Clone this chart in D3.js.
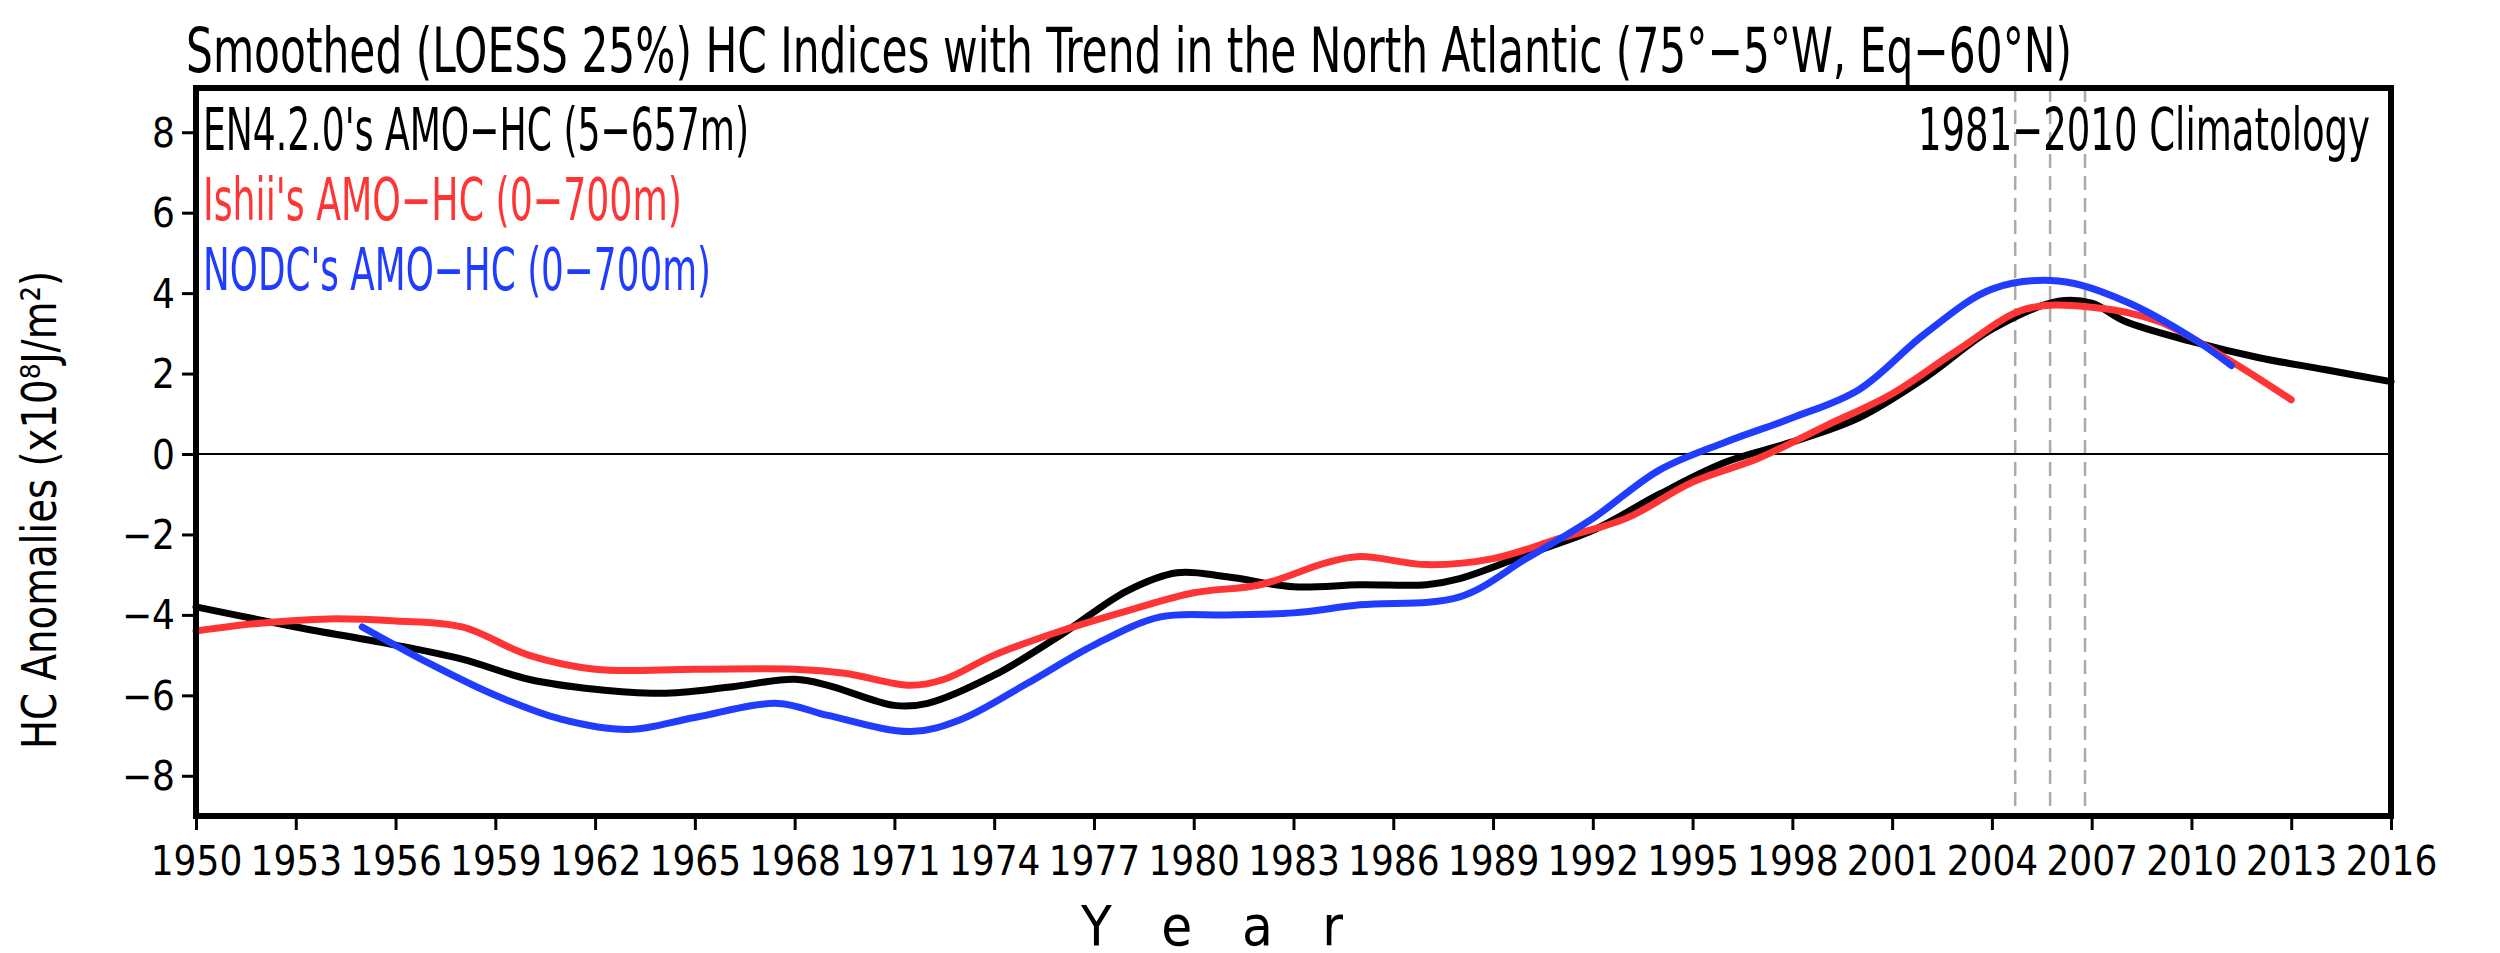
<!DOCTYPE html>
<html lang="en">
<head>
<meta charset="UTF-8">
<title>Smoothed HC Indices</title>
<script src="https://d3js.org/d3.v7.min.js"></script>
<style>
  body { margin: 0; background: #fff; }
  text { font-family: "Liberation Sans Narrow", "DejaVu Sans Condensed", "Liberation Sans", sans-serif; }
</style>
</head>
<body>
<div id="chart"></div>
<script>
// EN4.2.0 series
const en4Years = [1950,1953,1956,1958,1960,1962,1964,1966,1968,1969,1971,1972,1974,1976,1978,1979.5,1981,1983,1985,1987,1988,1990,1992,1994,1996,1998,2000,2002,2004,2006,2007,2008,2010,2012,2014,2016];
const en4Values = [-3.8,-4.3,-4.75,-5.1,-5.6,-5.85,-5.95,-5.8,-5.6,-5.75,-6.25,-6.2,-5.5,-4.5,-3.4,-2.95,-3.05,-3.3,-3.25,-3.25,-3.1,-2.5,-1.9,-1.0,-0.2,0.3,0.9,1.9,3.1,3.8,3.75,3.3,2.8,2.4,2.1,1.8];
// Ishii series
const ishiiYears = [1950,1952,1954,1956,1958,1960,1962,1965,1968,1969.5,1971.5,1972.5,1974,1976,1978,1980,1982,1984,1985,1987,1989,1991,1993,1995,1997,1999,2001,2003,2005,2007,2009,2011,2013];
const ishiiValues = [-4.4,-4.2,-4.1,-4.15,-4.3,-5.0,-5.35,-5.35,-5.35,-5.45,-5.75,-5.6,-5.0,-4.4,-3.9,-3.45,-3.25,-2.7,-2.55,-2.75,-2.6,-2.1,-1.6,-0.7,-0.1,0.7,1.5,2.6,3.6,3.65,3.3,2.4,1.35];
// NODC series
const nodcYears = [1955,1957,1959,1961,1963,1965,1967.5,1969,1971.5,1973,1975,1977,1979,1981,1983,1985,1988,1990,1992,1994,1996,1998,2000,2002,2004,2006,2008,2010,2011.2];
const nodcValues = [-4.3,-5.2,-6.0,-6.6,-6.85,-6.55,-6.2,-6.5,-6.9,-6.6,-5.7,-4.75,-4.05,-4.0,-3.95,-3.75,-3.55,-2.6,-1.6,-0.4,0.3,0.9,1.6,3.0,4.1,4.3,3.8,2.9,2.2];

const xTicks = d3.range(1950, 2017, 3);
const yTicks = [-8,-6,-4,-2,0,2,4,6,8];
const climLines = [2004.7, 2005.75, 2006.8];

const W = 2500, H = 953;
const pLeft = 196, pRight = 2391, pTop = 88, pBottom = 816;

const svg = d3.select("#chart").append("svg").attr("width", W).attr("height", H);

const x = d3.scaleLinear().domain([1950, 2016]).range([pLeft, pRight]);
const y = d3.scaleLinear().domain([-9, 9.1]).range([pBottom, pTop]);

// dashed climatology lines
svg.selectAll(".clim").data(climLines).join("line")
  .attr("x1", d => x(d)).attr("x2", d => x(d))
  .attr("y1", pTop).attr("y2", pBottom)
  .attr("stroke", "#aaa").attr("stroke-width", 2.5).attr("stroke-dasharray", "14,8");

// zero line
svg.append("line").attr("x1", pLeft).attr("x2", pRight)
  .attr("y1", y(0)).attr("y2", y(0)).attr("stroke", "#000").attr("stroke-width", 2);

const line = d3.line().x(d => x(d[0])).y(d => y(d[1])).curve(d3.curveCatmullRom);
const series = [
  { yrs: en4Years, vals: en4Values, color: "#000" },
  { yrs: ishiiYears, vals: ishiiValues, color: "#ff3535" },
  { yrs: nodcYears, vals: nodcValues, color: "#1f3cff" }
];
svg.selectAll(".series").data(series).join("path")
  .attr("fill", "none").attr("stroke", d => d.color).attr("stroke-width", 7)
  .attr("stroke-linecap", "round")
  .attr("d", d => line(d.yrs.map((v, i) => [v, d.vals[i]])));

// axes
const xAxis = svg.append("g").attr("transform", `translate(0,${pBottom})`)
  .call(d3.axisBottom(x).tickValues(xTicks).tickFormat(d3.format("d")).tickSize(14).tickSizeOuter(0));
const yAxis = svg.append("g").attr("transform", `translate(${pLeft},0)`)
  .call(d3.axisLeft(y).tickValues(yTicks).tickFormat(d => d < 0 ? "\u2212" + Math.abs(d) : d).tickSize(14).tickSizeOuter(0));
[xAxis, yAxis].forEach(a => {
  a.select(".domain").remove();
  a.selectAll(".tick line").attr("stroke-width", 3);
  a.selectAll(".tick text").attr("font-size", 40).attr("fill", "#000")
    .attr("font-family", "'Liberation Sans Narrow','DejaVu Sans Condensed',sans-serif");
});
xAxis.selectAll(".tick text").attr("dy", "1.05em");
yAxis.selectAll(".tick text").attr("dy", "0.35em").attr("dx", "-0.1em");

// frame
svg.append("rect").attr("x", pLeft).attr("y", pTop).attr("width", pRight - pLeft).attr("height", pBottom - pTop)
  .attr("fill", "none").attr("stroke", "#000").attr("stroke-width", 6);

// texts
function txt(s, xx, yy, size, len, color, anchor) {
  return svg.append("text").attr("x", xx).attr("y", yy).attr("font-size", size)
    .attr("fill", color || "#000").attr("text-anchor", anchor || "start")
    .attr("textLength", len).attr("lengthAdjust", "spacingAndGlyphs").text(s);
}
txt("Smoothed (LOESS 25%) HC Indices with Trend in the North Atlantic (75°\u22125°W, Eq\u221260°N)", 186, 72, 62, 1886);
txt("EN4.2.0's AMO\u2212HC (5\u2212657m)", 203, 150, 58, 546);
txt("Ishii's AMO\u2212HC (0\u2212700m)", 203, 220, 58, 479, "#ff3535");
txt("NODC's AMO\u2212HC (0\u2212700m)", 203, 290, 58, 508, "#1f3cff");
txt("1981\u22122010 Climatology", 2370, 150, 58, 452, "#000", "end");

svg.append("text").attr("transform", "translate(56,510) rotate(-90)")
  .attr("text-anchor", "middle").attr("font-size", 48).attr("textLength", 478)
  .attr("lengthAdjust", "spacingAndGlyphs").text("HC Anomalies (x10\u2078J/m\u00b2)");

svg.append("text").attr("x", 1212).attr("y", 945).attr("text-anchor", "middle")
  .attr("font-size", 56).attr("textLength", 262).attr("lengthAdjust", "spacing").text("Y e a r");
</script>
</body>
</html>
